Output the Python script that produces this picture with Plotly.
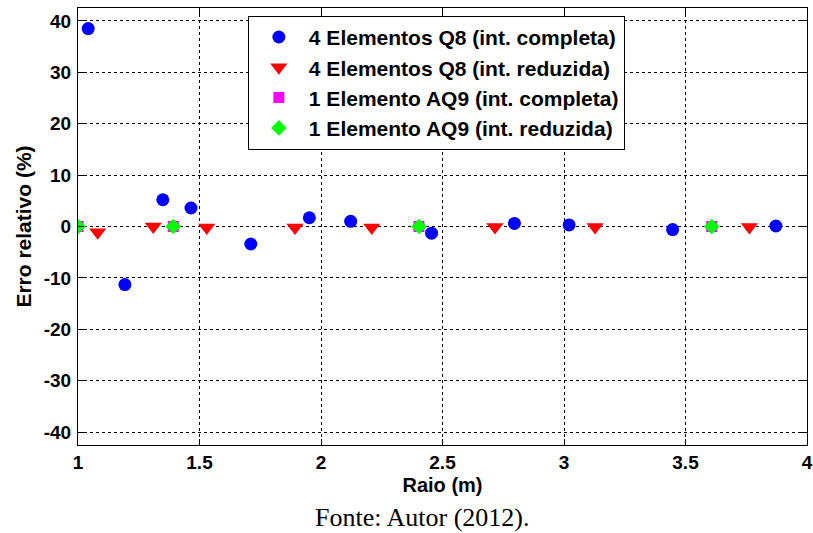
import plotly.graph_objects as go

# Data
q8_full_x = [1.042, 1.193, 1.349, 1.465, 1.711, 1.952, 2.122, 2.455, 2.796, 3.021, 3.447, 3.872]
q8_full_y = [38.5, -11.3, 5.2, 3.6, -3.4, 1.7, 1.0, -1.3, 0.6, 0.3, -0.6, 0.1]

q8_red_x = [1.081, 1.310, 1.530, 1.893, 2.209, 2.716, 3.128, 3.763]
q8_red_y = [-1.1, 0.0, -0.2, -0.2, -0.2, -0.1, -0.1, -0.1]

aq9_full_x = [1.0, 1.392, 2.403, 3.608]
aq9_full_y = [0.0, 0.0, 0.0, 0.0]

aq9_red_x = [1.0, 1.392, 2.403, 3.608]
aq9_red_y = [0.0, 0.0, 0.0, 0.0]

names = [
    "4 Elementos Q8 (int. completa)",
    "4 Elementos Q8 (int. reduzida)",
    "1 Elemento AQ9 (int. completa)",
    "1 Elemento AQ9 (int. reduzida)",
]

x_ticks = [1, 1.5, 2, 2.5, 3, 3.5, 4]
x_tick_labels = ["1", "1.5", "2", "2.5", "3", "3.5", "4"]
y_ticks = [-40, -30, -20, -10, 0, 10, 20, 30, 40]
y_tick_labels = ["-40", "-30", "-20", "-10", "0", "10", "20", "30", "40"]

FONT = "Liberation Sans, Arial, sans-serif"

fig = go.Figure()
fig.add_trace(go.Scatter(x=q8_full_x, y=q8_full_y, mode="markers", name="<b>" + names[0] + "</b>",
                         marker=dict(symbol="circle", size=13, color="#0000ff")))
fig.add_trace(go.Scatter(x=q8_red_x, y=q8_red_y, mode="markers", name="<b>" + names[1] + "</b>",
                         marker=dict(symbol="triangle-down", size=15, color="#ff0000")))
fig.add_trace(go.Scatter(x=aq9_full_x, y=aq9_full_y, mode="markers", name="<b>" + names[2] + "</b>",
                         marker=dict(symbol="square", size=11, color="#ff00ff")))
fig.add_trace(go.Scatter(x=aq9_red_x, y=aq9_red_y, mode="markers", name="<b>" + names[3] + "</b>",
                         marker=dict(symbol="diamond", size=12, color="#00ff00")))

axis_common = dict(
    showline=True, linecolor="black", linewidth=1, mirror="allticks",
    ticks="inside", ticklen=6, tickcolor="black", tickwidth=1,
    showgrid=True, gridcolor="black", gridwidth=1, griddash="3px,3px",
    zeroline=False, automargin=False,
    tickfont=dict(family=FONT, size=19, color="black"),
)

fig.update_xaxes(range=[1, 4], tickmode="array", tickvals=x_ticks,
                 ticktext=["<b>" + t + "</b>" for t in x_tick_labels],
                 title=dict(text="<b>Raio (m)</b>", font=dict(family=FONT, size=20, color="black"),
                            standoff=6),
                 **axis_common)
fig.update_yaxes(range=[-42.5, 42.5], tickmode="array", tickvals=y_ticks,
                 ticktext=["<b>" + t + "</b>" for t in y_tick_labels],
                 title=dict(text="<b>Erro relativo (%)</b>", font=dict(family=FONT, size=21, color="black"),
                            standoff=6),
                 ticklabelstandoff=2,
                 **axis_common)

fig.add_annotation(text="Fonte: Autor (2012).", xref="paper", yref="paper",
                   x=(422 - 78) / 729, y=-(517 - 445) / 437, xanchor="center", yanchor="middle",
                   showarrow=False,
                   font=dict(family="Liberation Serif, Times New Roman, serif", size=26, color="black"))

fig.update_layout(
    width=813, height=533,
    margin=dict(l=78, r=6, t=8, b=88),
    plot_bgcolor="white", paper_bgcolor="white",
    showlegend=True,
    legend=dict(x=0.233, y=0.982, xanchor="left", yanchor="top",
                bgcolor="white", bordercolor="black", borderwidth=1,
                itemwidth=50,
                font=dict(family=FONT, size=21, color="black")),
)

fig.write_html("out.html", config={"displayModeBar": False},
               post_script="document.body.style.margin='0';")
